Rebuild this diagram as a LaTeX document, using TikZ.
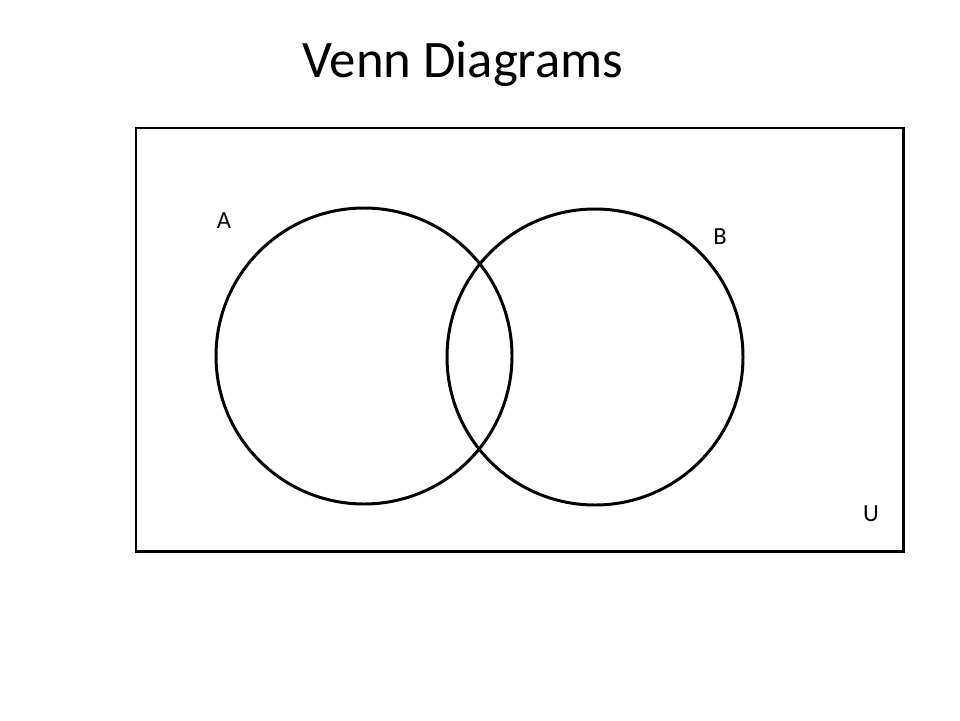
\documentclass[tikz,border=0pt]{standalone}
\usepackage{fontspec}
\setmainfont{Carlito}

\begin{document}
\begin{tikzpicture}[x=0.02cm, y=-0.02cm,
		set/.style={draw, line width=1.7pt},
		setlabel/.style={font=\fontsize{14}{17}\selectfont, anchor=base}]
		
		\useasboundingbox (0,0) rectangle (960,720);
		
		\node[anchor=base, font=\fontsize{30}{36}\selectfont] (title) at (463,77) {Venn Diagrams};
		
		\draw[set] (136,128) rectangle (903,551);
		\draw[set] (364,356) circle[radius=148];
		\draw[set] (595,357) circle[radius=148];
		
		\node[setlabel] (A) at (224,228) {A};
		\node[setlabel] (B) at (720,244) {B};
		\node[setlabel] (U) at (871,521) {U};
		
		\end{tikzpicture}
\end{document}
